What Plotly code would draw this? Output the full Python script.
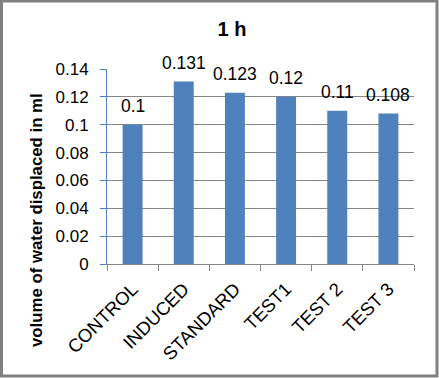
import plotly.graph_objects as go

categories = ["CONTROL", "INDUCED", "STANDARD", "TEST1", "TEST 2", "TEST 3"]
values = [0.1, 0.131, 0.123, 0.12, 0.11, 0.108]
labels = ["0.1", "0.131", "0.123", "0.12", "0.11", "0.108"]
y_tickvals = [0, 0.02, 0.04, 0.06, 0.08, 0.1, 0.12, 0.14]
y_ticktext = ["0", "0.02", "0.04", "0.06", "0.08", "0.1", "0.12", "0.14"]

font = "Liberation Sans, Arial, sans-serif"
W, H = 439, 378
L, R, T, B = 107, 25, 69, 114
pw, ph = W - L - R, H - T - B

fig = go.Figure(go.Bar(
    x=categories, y=values,
    marker=dict(color="#4F81BD", line=dict(width=0)),
    hoverinfo="x+y",
))

for c, v, t in zip(categories, values, labels):
    fig.add_annotation(x=c, y=v, text=t, showarrow=False, yanchor="bottom",
                       yshift=7, font=dict(size=17.5, color="#000000", family=font))

fig.add_annotation(xref="paper", yref="paper", x=(36 - L) / pw, y=(H - B - 220) / ph,
                   text="<b>volume of water displaced in ml</b>", textangle=-90,
                   showarrow=False, xanchor="center", yanchor="middle",
                   font=dict(size=16.8, color="#000000", family=font))

fig.update_layout(
    width=W, height=H,
    margin=dict(l=L, r=R, t=T, b=B, autoexpand=False),
    paper_bgcolor="white", plot_bgcolor="white",
    bargap=0.61,
    showlegend=False,
    title=dict(text="<b>1 h</b>", x=232 / W, xanchor="center", y=1 - 29 / H, yanchor="middle",
               font=dict(size=20, color="#000000", family=font)),
    font=dict(family=font, color="#000000"),
)
fig.update_xaxes(
    tickangle=-45, tickfont=dict(size=18.5, family=font),
    ticks="outside", tickson="boundaries", ticklen=6, tickcolor="#868686",
    ticklabelstandoff=6,
    showline=True, linecolor="#868686", linewidth=1, automargin=False,
)
fig.update_yaxes(
    range=[0, 0.14], tickvals=y_tickvals, ticktext=y_ticktext,
    tickfont=dict(size=17, family=font),
    showgrid=True, gridcolor="#868686", gridwidth=1,
    ticks="outside", ticklen=6, tickcolor="#4F81BD",
    ticklabelstandoff=8,
    showline=True, linecolor="#4F81BD", linewidth=1,
    zeroline=False, automargin=False,
)
fig.add_shape(type="rect", xref="paper", yref="paper",
              x0=(1.5 - L) / pw, x1=(W - 2 - L) / pw,
              y0=(H - B - (H - 2)) / ph, y1=(H - B - 1) / ph,
              line=dict(color="#808080", width=3), layer="above")
fig.write_html("out.html", config={"displayModeBar": False},
               post_script="document.body.style.margin='0';document.body.style.overflow='hidden';")
